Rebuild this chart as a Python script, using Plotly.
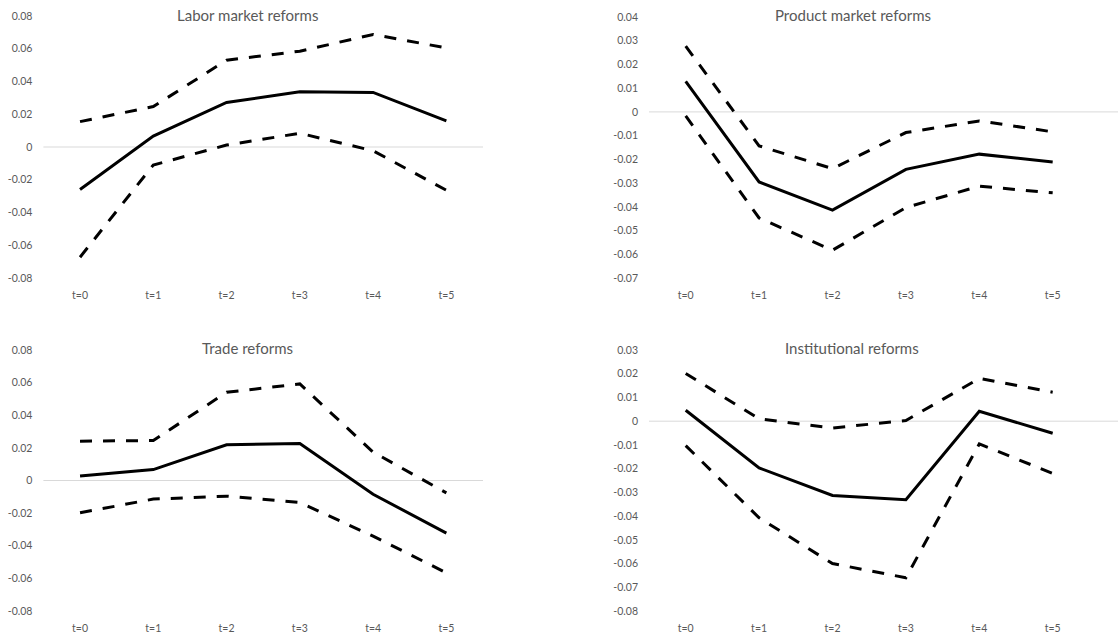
import plotly.graph_objects as go

categories = ["t=0", "t=1", "t=2", "t=3", "t=4", "t=5"]

titles = ["Labor market reforms", "Product market reforms", "Trade reforms", "Institutional reforms"]

labor_est = [-0.026, 0.0067, 0.0272, 0.0337, 0.0333, 0.016]
labor_up = [0.0155, 0.0247, 0.053, 0.0585, 0.0687, 0.0605]
labor_lo = [-0.0673, -0.011, 0.0012, 0.0084, -0.0023, -0.0264]

product_est = [0.0129, -0.0295, -0.0414, -0.0242, -0.0178, -0.0211]
product_up = [0.0277, -0.0143, -0.0239, -0.0087, -0.0038, -0.0084]
product_lo = [-0.0017, -0.0447, -0.0583, -0.0403, -0.0313, -0.0341]

trade_est = [0.0027, 0.0067, 0.0219, 0.0227, -0.0084, -0.0323]
trade_up = [0.0241, 0.0245, 0.0541, 0.0592, 0.0174, -0.0076]
trade_lo = [-0.0198, -0.0114, -0.0096, -0.0135, -0.0341, -0.0566]

inst_est = [0.0046, -0.0197, -0.0313, -0.0331, 0.0042, -0.0051]
inst_up = [0.0201, 0.001, -0.0029, 0.0003, 0.018, 0.0122]
inst_lo = [-0.0103, -0.0407, -0.06, -0.066, -0.0096, -0.022]

panels = [
    (labor_est, labor_up, labor_lo),
    (product_est, product_up, product_lo),
    (trade_est, trade_up, trade_lo),
    (inst_est, inst_up, inst_lo),
]

W, H = 1118, 634
y_ranges = [(-0.08, 0.08, 0.02), (-0.07, 0.04, 0.01), (-0.08, 0.08, 0.02), (-0.08, 0.03, 0.01)]
x_doms = [(43.4 / W, 483 / W), (649 / W, 1.0), (43.4 / W, 483 / W), (649 / W, 1.0)]
y_doms = [(1 - 278 / H, 1 - 16 / H), (1 - 278 / H, 1 - 17 / H), (1 - 611 / H, 1 - 350 / H), (1 - 611 / H, 1 - 350 / H)]
x_ranges = [[-0.5, 5.5], [-0.5, 5.89], [-0.5, 5.5], [-0.5, 5.89]]
title_pos = [(247, 15), (853, 15), (247, 348), (852, 348)]

FONT = "Lato, 'Open Sans', sans-serif"
GRAY = "#595959"

fig = go.Figure()
layout = dict(
    width=W, height=H, margin=dict(l=0, r=0, t=0, b=0, autoexpand=False),
    template="none",
    paper_bgcolor="white", plot_bgcolor="white", showlegend=False,
    font=dict(family=FONT, color=GRAY, size=10),
)
annotations = []
shapes = []
for i, (est, up, lo) in enumerate(panels):
    n = i + 1
    xa = "x" if n == 1 else f"x{n}"
    ya = "y" if n == 1 else f"y{n}"
    for vals, dash in [(up, "12px,11px"), (lo, "12px,11px"), (est, "solid")]:
        fig.add_trace(go.Scatter(
            x=categories, y=vals, xaxis=xa, yaxis=ya, mode="lines",
            line=dict(color="black", width=3, dash=dash), hoverinfo="skip",
        ))
    lo_r, hi_r, step = y_ranges[i]
    nt = int(round((hi_r - lo_r) / step))
    tickvals = [round(lo_r + k * step, 4) for k in range(nt + 1)]
    ticktext = ["0" if abs(v) < 1e-9 else f"{v:.2f}" for v in tickvals]
    layout[f"xaxis{'' if n == 1 else n}"] = dict(
        domain=list(x_doms[i]), anchor=ya, type="category", range=x_ranges[i],
        showgrid=False, zeroline=False, showline=False, ticks="", automargin=False,
        tickfont=dict(size=10.5, color=GRAY, family=FONT), ticklabelstandoff=9,
        fixedrange=True,
    )
    layout[f"yaxis{'' if n == 1 else n}"] = dict(
        domain=list(y_doms[i]), anchor=xa, range=[lo_r, hi_r],
        tickvals=tickvals, ticktext=ticktext, automargin=False,
        showgrid=False, zeroline=False, showline=False, ticks="",
        tickfont=dict(size=10.5, color=GRAY, family=FONT), ticklabelstandoff=10,
        fixedrange=True,
    )
    shapes.append(dict(type="line", xref=f"{xa} domain", yref=ya, x0=0, x1=1, y0=0, y1=0,
                       line=dict(color="#d9d9d9", width=1), layer="below"))
    tx, ty = title_pos[i]
    annotations.append(dict(
        text=titles[i], xref="paper", yref="paper",
        x=tx / W, y=1 - ty / H, xanchor="center", yanchor="middle",
        showarrow=False, font=dict(size=15, color=GRAY, family=FONT),
    ))

layout["shapes"] = shapes
layout["annotations"] = annotations
fig.update_layout(**layout)
fig.write_html("out.html", config={"displayModeBar": False},
               post_script="document.body.style.margin='0';")
